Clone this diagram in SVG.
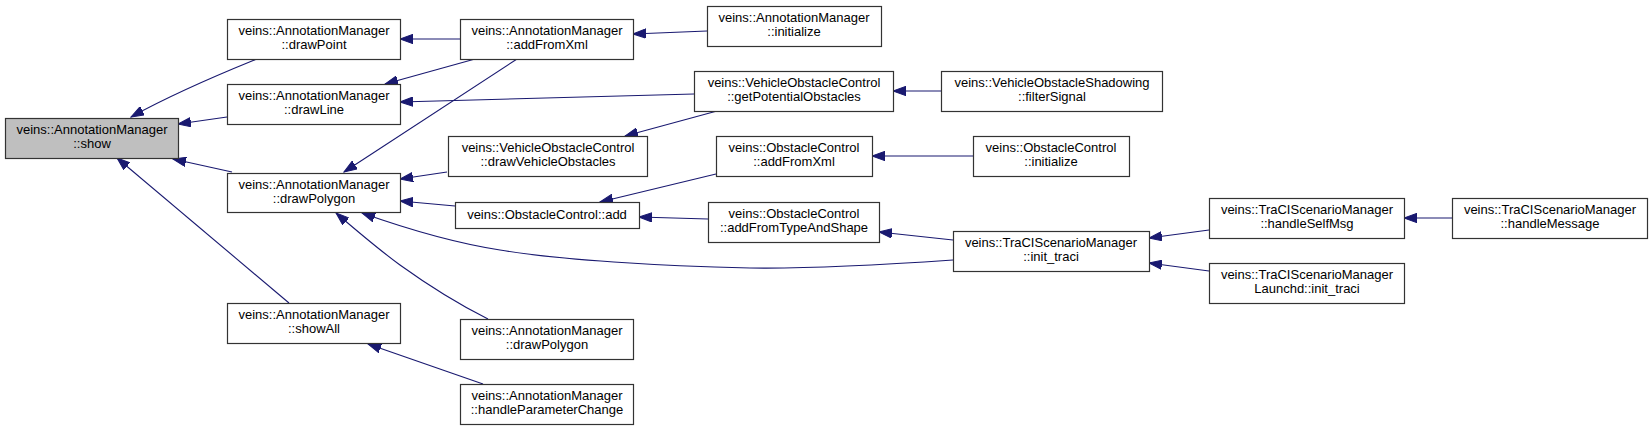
<svg xmlns="http://www.w3.org/2000/svg" width="1652" height="431" viewBox="0 0 1652 431">
<style>
.n rect{fill:#ffffff;stroke:#333333;stroke-width:1.2}
.n.root rect{fill:#bfbfbf}
.n text{font-family:"Liberation Sans",Arial,sans-serif;font-size:13px;fill:#000000;text-anchor:middle}
.e path{fill:none;stroke:#191970;stroke-width:1.1;marker-end:url(#ah)}
</style>
<defs>
<marker id="ah" markerUnits="userSpaceOnUse" markerWidth="14" markerHeight="10" viewBox="0 0 14 10" refX="13" refY="5" orient="auto">
<path d="M0,0.3 L13,5 L0,9.7 z" fill="#191970" stroke="#191970" stroke-width="1"/>
</marker>
</defs>
<rect width="1652" height="431" fill="#ffffff"/>
<g id="connectors" class="e">
<path d="M257,59 C230,70 180,90 131,117"/>
<path d="M227,117 L178,124"/>
<path d="M232,172 L173,159"/>
<path d="M289,303 L117,158"/>
<path d="M460,39 L400,39"/>
<path d="M475,59 L385,84"/>
<path d="M694,94 L400,102"/>
<path d="M517,59 L344,172"/>
<path d="M447,172 L400,179"/>
<path d="M455,206 L400,201"/>
<path d="M953,260 C880,265 810,269 750,268 C660,266 560,260 500,250 C455,243 410,230 362,213"/>
<path d="M488,319 C460,305 425,283 400,265 C378,249 357,231 336,213"/>
<path d="M483,384 L368,344"/>
<path d="M707,31 L633,34"/>
<path d="M941,91 L893,91"/>
<path d="M717,111 L625,136"/>
<path d="M716,174 L600,202"/>
<path d="M708,219 L639,217"/>
<path d="M973,156 L872,156"/>
<path d="M953,240 L879,232"/>
<path d="M1209,230 L1149,238"/>
<path d="M1209,271 L1149,263"/>
<path d="M1452,218 L1404,218"/>
</g>
<g id="show" class="n root"><rect x="5.5" y="118.5" width="173" height="40"/><text x="92" y="134">veins::AnnotationManager</text><text x="92" y="148">::show</text></g>
<g id="drawPoint" class="n"><rect x="227.5" y="19.5" width="173" height="40"/><text x="314" y="35">veins::AnnotationManager</text><text x="314" y="49">::drawPoint</text></g>
<g id="drawLine" class="n"><rect x="227.5" y="84.5" width="173" height="40"/><text x="314" y="100">veins::AnnotationManager</text><text x="314" y="114">::drawLine</text></g>
<g id="drawPolygon" class="n"><rect x="227.5" y="173.5" width="173" height="39"/><text x="314" y="189">veins::AnnotationManager</text><text x="314" y="203">::drawPolygon</text></g>
<g id="showAll" class="n"><rect x="227.5" y="303.5" width="173" height="40"/><text x="314" y="319">veins::AnnotationManager</text><text x="314" y="333">::showAll</text></g>
<g id="addFromXml" class="n"><rect x="460.5" y="19.5" width="173" height="40"/><text x="547" y="35">veins::AnnotationManager</text><text x="547" y="49">::addFromXml</text></g>
<g id="am_initialize" class="n"><rect x="707.5" y="6.5" width="174" height="40"/><text x="794" y="22">veins::AnnotationManager</text><text x="794" y="36">::initialize</text></g>
<g id="getPotentialObstacles" class="n"><rect x="694.5" y="71.5" width="199" height="40"/><text x="794" y="87">veins::VehicleObstacleControl</text><text x="794" y="101">::getPotentialObstacles</text></g>
<g id="drawVehicleObstacles" class="n"><rect x="448.5" y="136.5" width="199" height="40"/><text x="548" y="152">veins::VehicleObstacleControl</text><text x="548" y="166">::drawVehicleObstacles</text></g>
<g id="oc_add" class="n"><rect x="455.5" y="202.5" width="184" height="26"/><text x="547" y="219">veins::ObstacleControl::add</text></g>
<g id="oc_addFromXml" class="n"><rect x="716.5" y="136.5" width="156" height="40"/><text x="794" y="152">veins::ObstacleControl</text><text x="794" y="166">::addFromXml</text></g>
<g id="addFromTypeAndShape" class="n"><rect x="708.5" y="202.5" width="171" height="40"/><text x="794" y="218">veins::ObstacleControl</text><text x="794" y="232">::addFromTypeAndShape</text></g>
<g id="drawPolygon2" class="n"><rect x="460.5" y="319.5" width="173" height="40"/><text x="547" y="335">veins::AnnotationManager</text><text x="547" y="349">::drawPolygon</text></g>
<g id="handleParameterChange" class="n"><rect x="460.5" y="384.5" width="173" height="40"/><text x="547" y="400">veins::AnnotationManager</text><text x="547" y="414">::handleParameterChange</text></g>
<g id="filterSignal" class="n"><rect x="941.5" y="71.5" width="221" height="40"/><text x="1052" y="87">veins::VehicleObstacleShadowing</text><text x="1052" y="101">::filterSignal</text></g>
<g id="oc_initialize" class="n"><rect x="973.5" y="136.5" width="156" height="40"/><text x="1051" y="152">veins::ObstacleControl</text><text x="1051" y="166">::initialize</text></g>
<g id="init_traci" class="n"><rect x="953.5" y="231.5" width="196" height="40"/><text x="1051" y="247">veins::TraCIScenarioManager</text><text x="1051" y="261">::init_traci</text></g>
<g id="handleSelfMsg" class="n"><rect x="1209.5" y="198.5" width="195" height="40"/><text x="1307" y="214">veins::TraCIScenarioManager</text><text x="1307" y="228">::handleSelfMsg</text></g>
<g id="launchd_init_traci" class="n"><rect x="1209.5" y="263.5" width="195" height="40"/><text x="1307" y="279">veins::TraCIScenarioManager</text><text x="1307" y="293">Launchd::init_traci</text></g>
<g id="handleMessage" class="n"><rect x="1452.5" y="198.5" width="195" height="40"/><text x="1550" y="214">veins::TraCIScenarioManager</text><text x="1550" y="228">::handleMessage</text></g>
</svg>
